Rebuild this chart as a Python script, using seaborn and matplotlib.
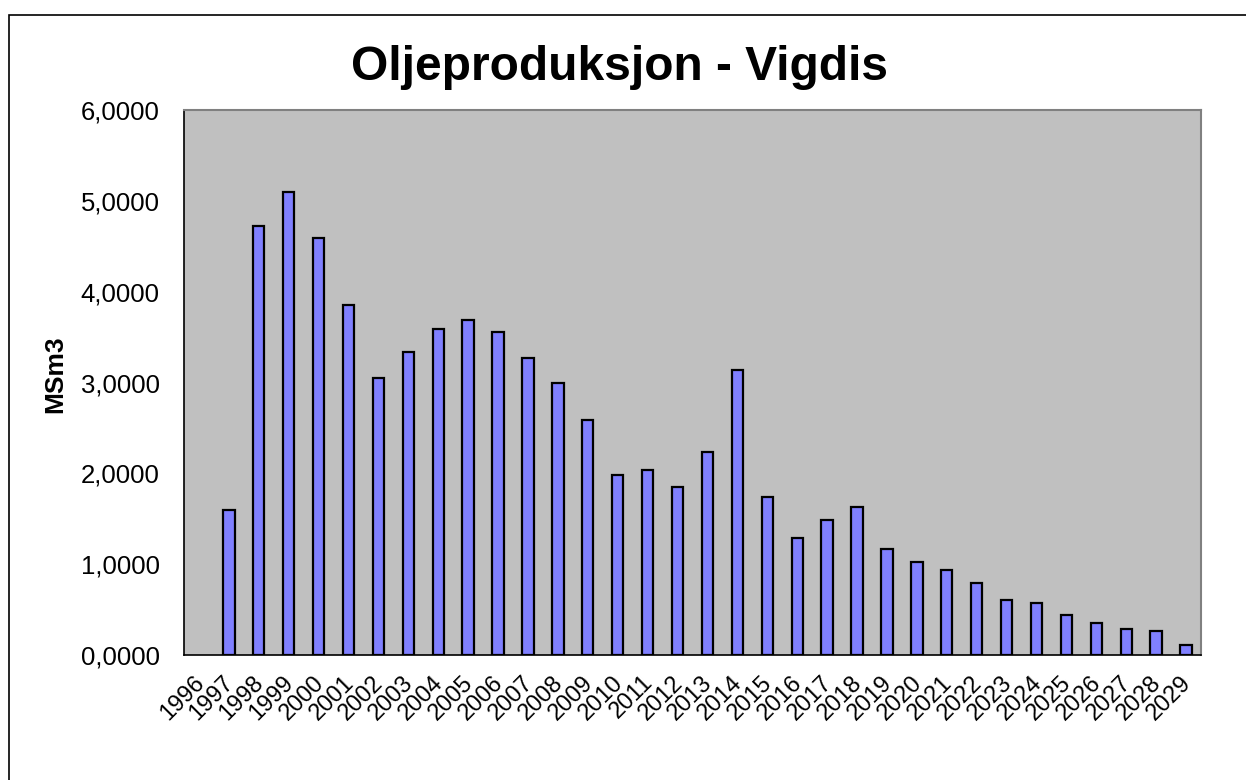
import numpy as np
import pandas as pd
import seaborn as sns
import matplotlib.pyplot as plt
from matplotlib.patches import Rectangle
from matplotlib.ticker import FuncFormatter, FixedLocator
from matplotlib.transforms import ScaledTranslation

# Oil production per year (MSm3), 1996 has no production
years = [str(y) for y in range(1996, 2030)]
production = [np.nan, 1.60, 4.72, 5.10, 4.59, 3.85, 3.05, 3.34, 3.59, 3.69,
              3.56, 3.27, 3.00, 2.59, 1.98, 2.04, 1.85, 2.24, 3.14, 1.74,
              1.29, 1.49, 1.63, 1.17, 1.02, 0.94, 0.79, 0.61, 0.57, 0.44,
              0.35, 0.29, 0.26, 0.11]
y_ticks = [0, 1, 2, 3, 4, 5, 6]

df = pd.DataFrame({'year': years, 'msm3': production})

sns.set_style('white')
plt.rcParams['font.family'] = ['Liberation Sans', 'DejaVu Sans']
plt.rcParams['text.color'] = 'black'
plt.rcParams['axes.labelcolor'] = 'black'
plt.rcParams['xtick.color'] = 'black'
plt.rcParams['ytick.color'] = 'black'

fig = plt.figure(figsize=(12.46, 7.80), dpi=100)
ax = fig.add_axes([184 / 1246, 1 - 655 / 780, (1201 - 184) / 1246, (655 - 110) / 780])

sns.barplot(x='year', y='msm3', data=df, order=years, color='#8080FF',
            saturation=1, width=0.38, edgecolor='black', linewidth=1.6, ax=ax)
ax.set_facecolor('#C0C0C0')

ax.set_xlim(-0.5, len(years) - 0.5)
ax.set_ylim(0, 6)
ax.set_yticks(y_ticks)
ax.yaxis.set_major_formatter(FuncFormatter(lambda v, p: f'{v:.4f}'.replace('.', ',')))

# category labels at centres, tick marks at the boundaries
ax.set_xticks(range(len(years)))
ax.set_xticklabels(years, rotation=45, ha='right', rotation_mode='anchor', fontsize=17)
ax.xaxis.set_minor_locator(FixedLocator(np.arange(-0.5, len(years), 1)))
ax.tick_params(axis='x', which='major', length=0, pad=14)
ax.tick_params(axis='x', which='minor', direction='inout', length=11, width=1, color='black')
ax.tick_params(axis='y', direction='inout', length=11, width=1, color='black', labelsize=18.5, pad=12)

# nudge year labels a little left/up like the original
shift = ScaledTranslation(-6 / 100, 3 / 100, fig.dpi_scale_trans)
for lbl in ax.get_xticklabels():
    lbl.set_transform(lbl.get_transform() + shift)

for side in ['top', 'right']:
    ax.spines[side].set_color('#808080')
    ax.spines[side].set_linewidth(1.5)
for side in ['left', 'bottom']:
    ax.spines[side].set_color('black')
    ax.spines[side].set_linewidth(1.2)

ax.set_xlabel('')
ax.set_ylabel('MSm3', fontsize=19, fontweight='bold')
ax.yaxis.set_label_coords(-0.115, 0.516)

fig.text(0.497, 1 - 80 / 780, 'Oljeproduksjon - Vigdis', ha='center', va='baseline',
         fontsize=34.5, fontweight='bold')

# chart area frame
fig.add_artist(Rectangle((9 / 1246, -0.1), 1.2, 1.1 - 15 / 780, transform=fig.transFigure,
                         fill=False, edgecolor='black', linewidth=1.2, clip_on=False))

fig.savefig('out.png', dpi=100, facecolor='white')
